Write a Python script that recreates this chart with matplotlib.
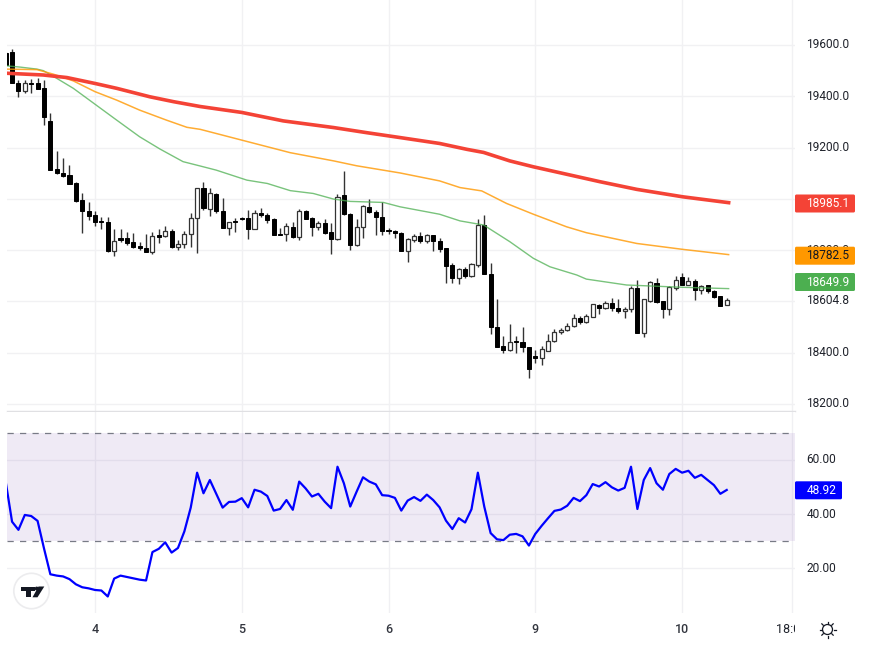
import matplotlib
matplotlib.use('Agg')
import matplotlib.pyplot as plt
import numpy as np
from matplotlib.patches import Circle, FancyBboxPatch, Polygon
from matplotlib.transforms import Bbox

opens = [19568, 19571, 19450, 19421, 19450, 19453, 19431, 19304, 19115, 19100, 19092, 19063, 18995, 18954, 18937, 18912, 18908, 18798, 18846, 18846, 18833, 18816, 18807, 18794, 18858, 18855, 18876, 18811, 18825, 18862, 18924, 19041, 18959, 19020, 18954, 18885, 18915, 18925, 18924,
         18881, 18943, 18937, 18920, 18864, 18864, 18891, 18852, 18954, 18924, 18889, 18904, 18871, 18842, 19016, 18941, 18819, 18889, 18969, 18949, 18929, 18880, 18875, 18867, 18798, 18839, 18854, 18834, 18858, 18837, 18808, 18741, 18690, 18725, 18699,
         18743, 18899, 18708, 18501, 18426, 18410, 18447, 18443, 18423, 18388, 18379, 18408, 18446, 18479, 18487, 18504, 18534, 18518, 18540, 18587, 18573, 18595, 18576, 18561, 18569, 18651, 18478, 18600, 18671, 18602, 18569, 18654, 18694, 18665, 18680, 18645, 18663, 18642, 18620, 18585]
closes = [19522, 19450, 19421, 19450, 19448, 19428, 19320, 19112, 19100, 19089, 19059, 18992, 18951, 18934, 18908, 18908, 18797, 18837, 18840, 18829, 18813, 18808, 18794, 18855, 18852, 18873, 18811, 18825, 18862, 18924, 19044, 18963, 19021, 18954, 18885, 18908, 18911, 18920, 18881,
          18946, 18936, 18917, 18859, 18860, 18895, 18850, 18954, 18921, 18889, 18904, 18868, 18842, 19008, 18940, 18819, 18891, 18972, 18947, 18930, 18876, 18873, 18865, 18798, 18842, 18854, 18834, 18858, 18837, 18806, 18738, 18690, 18725, 18699, 18746,
          18899, 18707, 18499, 18423, 18410, 18443, 18442, 18423, 18336, 18379, 18413, 18447, 18479, 18487, 18505, 18534, 18518, 18543, 18589, 18576, 18595, 18573, 18561, 18572, 18651, 18478, 18608, 18676, 18599, 18569, 18655, 18682, 18664, 18678, 18645, 18661, 18639, 18618, 18583, 18605]
highs = [19574, 19584, 19463, 19463, 19466, 19472, 19463, 19336, 19187, 19158, 19132, 19066, 19024, 18986, 18953, 18930, 18930, 18884, 18882, 18872, 18866, 18833, 18862, 18872, 18882, 18894, 18881, 18839, 18875, 18943, 19044, 19067, 19041, 19021, 19002, 18911, 18924, 18930, 18956,
         18957, 18963, 18946, 18924, 18885, 18904, 18911, 18959, 18956, 18928, 18914, 18920, 18904, 19018, 19109, 18946, 18920, 18976, 18999, 18956, 18986, 18888, 18878, 18872, 18846, 18863, 18872, 18863, 18859, 18846, 18808, 18748, 18732, 18733, 18748,
         18920, 18937, 18748, 18609, 18465, 18511, 18465, 18499, 18423, 18411, 18427, 18472, 18491, 18495, 18514, 18551, 18544, 18551, 18590, 18590, 18603, 18612, 18608, 18580, 18660, 18683, 18608, 18680, 18693, 18602, 18660, 18699, 18709, 18696, 18686, 18664, 18665, 18645, 18621, 18612]
lows = [19522, 19450, 19398, 19411, 19411, 19428, 19288, 19112, 19096, 19086, 19059, 18989, 18865, 18917, 18895, 18882, 18794, 18777, 18830, 18820, 18810, 18800, 18794, 18785, 18826, 18850, 18810, 18800, 18807, 18813, 18790, 18957, 18933, 18946, 18885, 18859, 18872, 18917, 18842,
        18881, 18928, 18904, 18858, 18859, 18837, 18847, 18840, 18920, 18855, 18878, 18863, 18785, 18840, 18937, 18800, 18816, 18846, 18943, 18859, 18859, 18863, 18849, 18798, 18755, 18832, 18829, 18826, 18798, 18793, 18673, 18673, 18668, 18690, 18696,
        18735, 18707, 18473, 18421, 18397, 18407, 18400, 18404, 18303, 18358, 18352, 18408, 18443, 18473, 18485, 18501, 18512, 18514, 18540, 18551, 18570, 18564, 18556, 18537, 18560, 18478, 18460, 18599, 18595, 18537, 18547, 18645, 18663, 18663, 18606, 18629, 18634, 18615, 18582, 18585]

rsi = [52, 37.2, 34.2, 39.7, 39.3, 37.5, 27.4, 17.8, 17.3, 17, 16, 14.1, 13, 12.6, 12, 11.8, 9.6, 16.2, 17.3, 16.8, 16.3, 15.8, 15.5, 26, 27.2, 29.6, 25.8, 27.5, 33.6, 42.4, 55.3, 47.7, 52.6, 47.5, 42.4, 44.5, 44.6, 45.9, 42.5, 49, 48.3, 46.7, 41.3, 41.9, 45.2, 41.6, 52,
       49.5, 46.5, 47.5, 44.6, 42.2, 57.5, 51.4, 42.8, 48.3, 53.6, 52, 51, 47, 46.8, 46, 41.3, 45, 46.3, 44.9, 47.2, 45.2, 42.5, 37.6, 34.5, 38.5, 36.9, 41.8, 55.3, 42.8, 33, 30.7, 30.4, 32.4, 32.7, 31.8, 28.4, 32.7, 35.7, 38.5, 41.2, 41.7, 43.1, 46, 44.8, 47, 51.1,
       50.2, 51.8, 49.9, 48.7, 49.7, 57.5, 41.9, 52.6, 57, 51.4, 49, 54.8, 56.7, 55.3, 56, 53.4, 54.5, 52.6, 50.7, 47.5, 48.92]

# moving averages, read at a few candles only
red_idx = [-1, 4.9, 8.6, 13, 16.4, 21.6, 25.3, 29.5, 36, 42.5, 50.4, 55.6, 60.8, 67, 71.3, 73.9, 78, 81.7, 86.9, 92.1, 97.9, 105.1, 112.3]
red_ma = [19490, 19483, 19473, 19450, 19431, 19398, 19379, 19360, 19337, 19304, 19278, 19258, 19239, 19216, 19193, 19181, 19148, 19125, 19096, 19067, 19037, 19008, 18985.1]
orange_idx = [-1, 3.9, 6.5, 9.6, 13, 16.4, 20, 24.2, 27.4, 29.5, 36, 43.6, 50.4, 54, 60.8, 67, 70.2, 73.6, 77.5, 81.7, 86.9, 90, 97.9, 105.1, 112.3]
orange_ma = [19506, 19504, 19486, 19460, 19418, 19385, 19346, 19307, 19279, 19271, 19229, 19180, 19148, 19129, 19101, 19070, 19044, 19031, 18982, 18940, 18891, 18868, 18826, 18803, 18782.5]
green_idx = [-1, 1.2, 3.9, 4.9, 7, 9.6, 13, 16.4, 20, 23.2, 26.8, 29.5, 32, 36.8, 40, 43.6, 47.2, 50.4, 53, 58.2, 60.8, 67, 70.2, 73.9, 78, 81.7, 84.3, 88.5, 90, 96.3, 105.1, 112.3]
green_ma = [19519, 19514, 19506, 19500, 19470, 19431, 19369, 19307, 19242, 19194, 19145, 19128, 19112, 19073, 19060, 19032, 19021, 18999, 18990, 18986, 18969, 18940, 18914, 18898, 18833, 18768, 18735, 18703, 18687, 18664, 18655, 18649.9]

price_ticks = [19600, 19400, 19200, 19000, 18800, 18600, 18400, 18200]
price_labels = ['19600.0', '19400.0', '19200.0', '', '18800.0', '', '18400.0', '18200.0']
rsi_ticks = [60, 40, 20]
rsi_labels = ['60.00', '40.00', '20.00']
day_ticks = [13, 36, 59, 82, 105, 122.2]
day_labels = ['4', '5', '6', '9', '10', '18:00']

W, H = 872, 650
TEXT = '#1f222b'
GRID = '#f1f1f3'

plt.rcParams['font.family'] = ['Roboto', 'DejaVu Sans']

fig = plt.figure(figsize=(W / 100, H / 100), dpi=100)


def pane(left, top, right, bottom):
    return fig.add_axes([left / W, 1 - bottom / H, (right - left) / W, (bottom - top) / H])


ax = pane(7, 0, 795, 411)
ax2 = pane(7, 412, 795, 613)

x = np.arange(-1, len(opens) - 1)
opens, closes = np.array(opens), np.array(closes)
highs, lows = np.array(highs), np.array(lows)

# candles
ax.vlines(x, lows, highs, color='#333333', lw=1.0, zorder=3)
up = closes >= opens
ax.bar(x[~up], (opens - closes)[~up], bottom=closes[~up], width=0.64, color='black', edgecolor='black', lw=0.7, zorder=4)
ax.bar(x[up], (closes - opens)[up], bottom=opens[up], width=0.64, color='white', edgecolor='#333333', lw=0.9, zorder=4)

ax.plot(green_idx, green_ma, color='#4caf50', lw=1.0, zorder=5, alpha=0.75)
ax.plot(orange_idx, orange_ma, color='#ff9800', lw=1.1, zorder=5, alpha=0.8)
ax.plot(red_idx, red_ma, color='#f44336', lw=2.6, zorder=5)

ax.set_xlim(-0.793, 122.7)
ax.set_ylim(18172.6, 19775.5)
ax.set_yticks(price_ticks)
ax.set_yticklabels(price_labels, va='center')
ax.yaxis.tick_right()
ax.set_xticks(day_ticks)
ax.set_xticklabels([])
ax.tick_params(length=0, labelsize=8.6, labelcolor=TEXT, pad=8.2)
ax.grid(color=GRID, lw=1)
ax.set_axisbelow(True)
for s in ['top', 'left', 'right']:
    ax.spines[s].set_visible(False)
ax.spines['bottom'].set_color('#e0e0e3')
ax.spines['bottom'].set_linewidth(1)

# rsi pane
ax2.axhspan(30, 70, color='#6937a5', alpha=0.1, lw=0, zorder=1)
ax2.axhline(70, color='#787b86', lw=0.9, dashes=(5, 5), zorder=2)
ax2.axhline(30, color='#787b86', lw=0.9, dashes=(5, 5), zorder=2)
ax2.plot(x, rsi, color='#0000ff', lw=1.6, zorder=3)
ax2.set_xlim(-0.793, 122.7)
ax2.set_ylim(3.5, 77.7)
ax2.set_yticks(rsi_ticks)
ax2.set_yticklabels(rsi_labels, va='center')
ax2.yaxis.tick_right()
ax2.set_xticks(day_ticks)
ax2.set_xticklabels(day_labels)
ax2.tick_params(length=0, labelcolor=TEXT)
ax2.tick_params(axis='y', labelsize=8.6, pad=8.2)
ax2.tick_params(axis='x', labelsize=9, pad=7.5)
ax2.grid(color='#f0f0f3', lw=1)
ax2.set_axisbelow(True)
for s in ax2.spines.values():
    s.set_visible(False)
for lbl in ax2.get_xticklabels()[:-1]:
    lbl.set_fontweight('medium')
    lbl.set_color('#33363f')
# the last time label runs under the price scale
last = ax2.get_xticklabels()[-1]
last.set_clip_on(True)
last.set_clip_box(Bbox([[0, 0], [795, H]]))

# overlay in pixel coordinates for price tags and icons
ov = fig.add_axes([0, 0, 1, 1], facecolor='none', zorder=10)
ov.set_xlim(0, W)
ov.set_ylim(H, 0)
ov.axis('off')


def tag(y, text, bg, fg, right=855):
    ov.add_patch(FancyBboxPatch((795, y - 9), right - 795, 18, boxstyle='round,pad=0,rounding_size=1.5',
                                facecolor=bg, edgecolor='none'))
    ov.text(806.5, y, text, color=fg, fontsize=8.6, ha='left', va='center')


tag(203.5, '18985.1', '#f44336', 'white')
tag(255.7, '18782.5', '#ff9800', '#131722')
tag(282, '18649.9', '#4caf50', 'white')
ov.text(806.5, 301, '18604.8', color=TEXT, fontsize=8.6, ha='left', va='center')
tag(490.3, '48.92', '#0000ff', 'white', right=842)

# logo
ov.add_patch(Circle((31.5, 591), 17.7, facecolor='white', edgecolor='#ececee', lw=1.2))
ov.add_patch(Polygon([(21, 586.7), (35, 586.7), (35, 590.7), (31, 590.7), (31, 597.3), (25.7, 597.3), (25.7, 590.7), (21, 590.7)],
                     facecolor='#131722', edgecolor='none'))
ov.add_patch(Circle((36.7, 588.6), 2, facecolor='#131722', edgecolor='none'))
ov.add_patch(Polygon([(38.5, 586.5), (44.3, 586.5), (37.5, 597.3), (32.5, 597.3)], facecolor='#131722', edgecolor='none'))

# sun icon
ov.add_patch(Circle((827.5, 629.5), 5, facecolor='none', edgecolor='#131722', lw=0.9))
for a in np.arange(0, 360, 45):
    ca, sa = np.cos(np.radians(a)), np.sin(np.radians(a))
    ov.plot([827.5 + 6 * ca, 827.5 + 8 * ca], [629.5 + 6 * sa, 629.5 + 8 * sa], color='#131722', lw=0.9)

fig.savefig('out.png', dpi=100)
